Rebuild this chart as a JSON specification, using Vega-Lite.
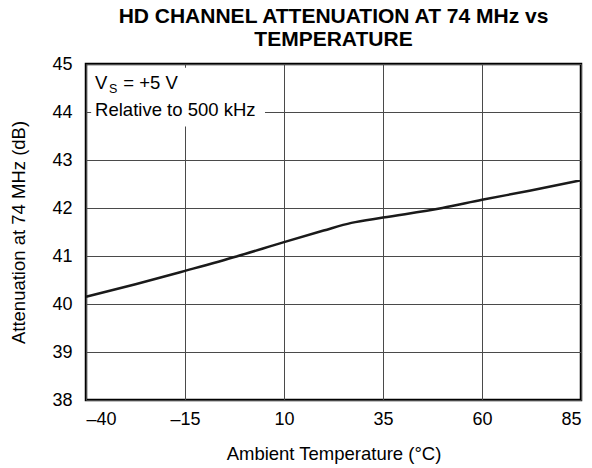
{
  "$schema": "https://vega.github.io/schema/vega-lite/v6.json",
  "autosize": {"type": "none"},
  "width": 495,
  "height": 336,
  "padding": {"left": 86, "top": 64, "right": 11, "bottom": 68},
  "background": "white",
  "title": {
    "text": ["HD CHANNEL ATTENUATION AT 74 MHz vs", "TEMPERATURE"],
    "font": "Liberation Sans",
    "fontSize": 21,
    "fontWeight": "bold",
    "color": "black",
    "anchor": "middle",
    "offset": 5,
    "lineHeight": 23
  },
  "config": {
    "font": "Liberation Sans",
    "view": {"stroke": "black", "strokeWidth": 2.5},
    "axis": {
      "labelFont": "Liberation Sans",
      "titleFont": "Liberation Sans",
      "labelFontSize": 18,
      "titleFontSize": 18.5,
      "labelColor": "black",
      "titleColor": "black",
      "titleFontWeight": "normal",
      "ticks": false,
      "domain": false,
      "grid": true,
      "gridColor": "#4a4a4a",
      "gridWidth": 1,
      "gridOpacity": 1
    }
  },
  "datasets": {
    "curve": [
      {"t": -40, "v": 40.15},
      {"t": -27.5, "v": 40.41},
      {"t": -15, "v": 40.69},
      {"t": -2, "v": 40.99},
      {"t": 10, "v": 41.29},
      {"t": 20, "v": 41.53},
      {"t": 27, "v": 41.69},
      {"t": 35, "v": 41.8},
      {"t": 50, "v": 42.0},
      {"t": 60, "v": 42.17},
      {"t": 72, "v": 42.36},
      {"t": 85, "v": 42.58}
    ],
    "box": [{"t1": -38.7, "t2": 5.2, "v1": 44.92, "v2": 43.7}],
    "notes": [
      {"t": -37.7, "v": 44.48, "label": "V"},
      {"t": -30.6, "v": 44.48, "label": "= +5 V"},
      {"t": -37.7, "v": 43.92, "label": "Relative to 500 kHz"}
    ],
    "subs": [{"t": -34.2, "v": 44.4, "label": "S"}]
  },
  "encoding": {
    "x": {
      "field": "t",
      "type": "quantitative",
      "scale": {"domain": [-40, 85], "nice": false, "zero": false},
      "axis": {
        "values": [-40, -15, 10, 35, 60, 85],
        "title": "Ambient Temperature (°C)",
        "labelPadding": 10,
        "titlePadding": 16,
        "labelExpr": "datum.value < 0 ? '–' + abs(datum.value) : '' + datum.value"
      }
    },
    "y": {
      "field": "v",
      "type": "quantitative",
      "scale": {"domain": [38, 45], "nice": false, "zero": false},
      "axis": {
        "values": [38, 39, 40, 41, 42, 43, 44, 45],
        "title": "Attenuation at 74 MHz (dB)",
        "labelPadding": 14,
        "titlePadding": 23
      }
    }
  },
  "layer": [
    {
      "data": {"name": "box"},
      "mark": {"type": "rect", "color": "white", "opacity": 1},
      "encoding": {
        "x": {"field": "t1", "type": "quantitative"},
        "x2": {"field": "t2"},
        "y": {"field": "v1", "type": "quantitative"},
        "y2": {"field": "v2"}
      }
    },
    {
      "data": {"name": "curve"},
      "mark": {"type": "line", "color": "#1a1a1a", "strokeWidth": 2.5, "interpolate": "monotone"}
    },
    {
      "data": {"name": "notes"},
      "mark": {"type": "text", "align": "left", "baseline": "alphabetic", "fontSize": 18.5, "color": "black", "font": "Liberation Sans"},
      "encoding": {"text": {"field": "label"}}
    },
    {
      "data": {"name": "subs"},
      "mark": {"type": "text", "align": "left", "baseline": "alphabetic", "fontSize": 12.5, "color": "black", "font": "Liberation Sans"},
      "encoding": {"text": {"field": "label"}}
    }
  ]
}
